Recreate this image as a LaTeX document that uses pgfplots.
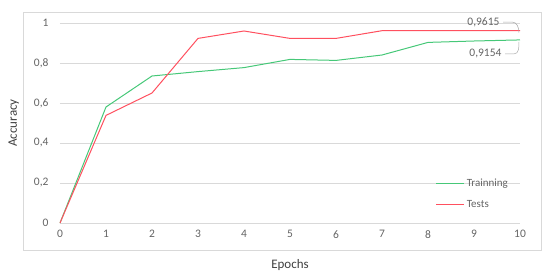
\documentclass[border=0pt]{standalone}
\usepackage{pgfplots}
\pgfplotsset{compat=1.18}
\usepackage{fontspec}
\setmainfont{Carlito}

\definecolor{trainc}{RGB}{70,200,120}
\definecolor{testc}{RGB}{255,80,95}
\definecolor{gridc}{RGB}{217,217,217}
\definecolor{tickc}{RGB}{100,100,100}
\definecolor{titlec}{RGB}{64,64,64}

\pgfplotstableread{
epoch train test
0  0      0
1  0.580  0.538
2  0.735  0.650
3  0.757  0.923
4  0.777  0.960
5  0.818  0.923
6  0.813  0.923
7  0.840  0.9615
8  0.903  0.9615
9  0.910  0.9615
10 0.9154 0.9615
}\acc

\begin{document}
\begin{tikzpicture}
\begin{axis}[
    scale only axis,
    width=460pt, height=200pt,
    xmin=0, xmax=10, ymin=0, ymax=1,
    xtick={0,...,10},
    ytick={0,0.2,...,1},
    axis x line*=bottom,
    axis y line*=left,
    x axis line style={draw=gridc, line width=0.8pt, -},
    y axis line style={draw=none},
    ymajorgrids,
    grid style={gridc, line width=0.6pt},
    major tick length=0pt,
    /pgf/number format/assume math mode=true,
    /pgf/number format/use comma,
    tick label style={font=\fontsize{11.5}{13}\selectfont, text=tickc},
    yticklabel style={xshift=-8pt},
    xticklabel style={yshift=-4pt},
    xlabel={Epochs},
    ylabel={Accuracy},
    label style={font=\fontsize{13}{15}\selectfont, text=titlec},
    xlabel style={yshift=-14pt},
    ylabel style={yshift=8pt},
    legend style={at={(axis cs:8.1,0.24)}, anchor=north west, draw=none, fill=none,
        font=\fontsize{11}{13}\selectfont, text=tickc, row sep=8pt},
    legend cell align=left,
    legend image code/.code={\draw[#1] (0pt,0pt) -- (28pt,0pt);},
    clip=false,
]
\addplot[trainc, line width=1pt] table[x=epoch, y=train] {\acc};
\addlegendentry{Trainning}
\addplot[testc, line width=1pt] table[x=epoch, y=test] {\acc};
\addlegendentry{Tests}

\draw[gridc, line width=0.6pt] ([xshift=-37pt,yshift=-27pt]rel axis cs:0,0) rectangle ([xshift=21pt,yshift=11pt]rel axis cs:1,1);

\draw[gray!70, line width=0.5pt] ([xshift=-17pt,yshift=1pt]axis cs:10,1) -- ([xshift=-8pt,yshift=1pt]axis cs:10,1)
    to[out=0,in=90] ([xshift=-1pt,yshift=-2pt]axis cs:10,0.9615);
\node[anchor=east, font=\fontsize{11.5}{13}\selectfont, text=tickc] at ([xshift=-17pt,yshift=1pt]axis cs:10,1) {0,9615};
\draw[gray!70, line width=0.5pt] ([xshift=-15pt,yshift=-14pt]axis cs:10,0.9154) -- ([xshift=-6pt,yshift=-14pt]axis cs:10,0.9154)
    to[out=0,in=-90] ([xshift=-1pt,yshift=-2pt]axis cs:10,0.9154);
\node[anchor=east, font=\fontsize{11.5}{13}\selectfont, text=tickc] at ([xshift=-15pt,yshift=-14pt]axis cs:10,0.9154) {0,9154};
\end{axis}
\useasboundingbox (-60pt,-56pt) rectangle (490pt,223pt);
\end{tikzpicture}
\end{document}
